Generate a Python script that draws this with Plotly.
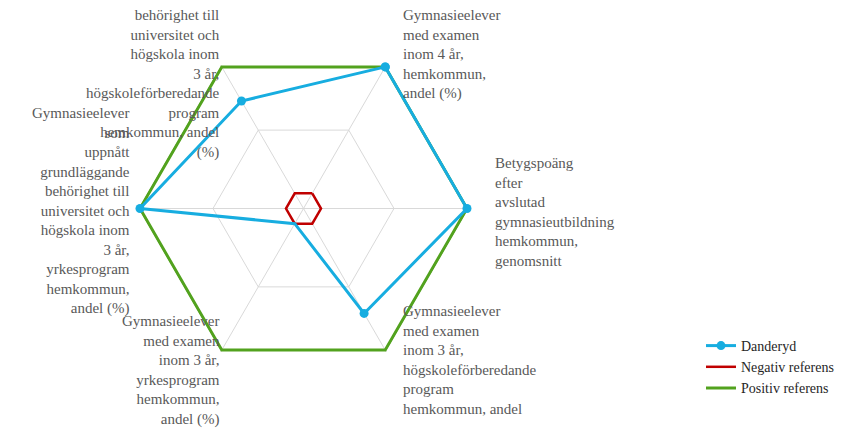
import plotly.graph_objects as go

W, H = 859, 428

categories = [
    "Gymnasieelever med examen inom 4 år, hemkommun, andel (%)",
    "Betygspoäng efter avslutad gymnasieutbildning hemkommun, genomsnitt",
    "Gymnasieelever med examen inom 3 år, högskoleförberedande program hemkommun, andel (%)",
    "Gymnasieelever med examen inom 3 år, yrkesprogram hemkommun, andel (%)",
    "Gymnasieelever som uppnått grundläggande behörighet till universitet och högskola inom 3 år, yrkesprogram hemkommun, andel (%)",
    "Gymnasieelever som uppnått grundläggande behörighet till universitet och högskola inom 3 år, högskoleförberedande program hemkommun, andel (%)",
]
danderyd = [1.0, 1.0, 0.71, 0.0, 1.0, 0.73]
negativ = [0, 0, 0, 0, 0, 0]
positiv = [1, 1, 1, 1, 1, 1]

# Visible (wrapped) label lines as shown in the chart
label_lines = [
    ["Gymnasieelever", "med examen", "inom 4 år,", "hemkommun,", "andel (%)"],
    ["Betygspoäng", "efter", "avslutad", "gymnasieutbildning", "hemkommun,", "genomsnitt"],
    ["Gymnasieelever", "med examen", "inom 3 år,", "högskoleförberedande", "program", "hemkommun, andel"],
    ["Gymnasieelever", "med examen", "inom 3 år,", "yrkesprogram", "hemkommun,", "andel (%)"],
    ["Gymnasieelever", "som", "uppnått", "grundläggande", "behörighet till", "universitet och",
     "högskola inom", "3 år,", "yrkesprogram", "hemkommun,", "andel (%)"],
    ["behörighet till", "universitet och", "högskola inom", "3 år,", "högskoleförberedande",
     "program", "hemkommun, andel", "(%)"],
]

theta = categories + [categories[0]]

def closed(v):
    return list(v) + [v[0]]

SERIF = "Times New Roman, Liberation Serif, DejaVu Serif, serif"
TXT = "#595959"

fig = go.Figure()
fig.add_trace(go.Scatterpolar(
    r=closed(positiv), theta=theta, mode="lines", name="Positiv referens",
    line=dict(color="#52A21E", width=3), cliponaxis=False, legendrank=3,
))
fig.add_trace(go.Scatterpolar(
    r=closed(negativ), theta=theta, mode="lines", name="Negativ referens",
    line=dict(color="#C00000", width=2.5), cliponaxis=False, legendrank=2,
))
fig.add_trace(go.Scatterpolar(
    r=closed(danderyd), theta=theta, mode="lines+markers", name="Danderyd",
    line=dict(color="#17ADE0", width=3), marker=dict(size=9, color="#17ADE0"),
    cliponaxis=False, legendrank=1,
))

rmin, rmax = -0.12, 1.015
cx, cy, R = 295.5, 200.5, 163.5 * (rmax - rmin) / (1 - rmin)
fig.update_layout(
    width=W, height=H,
    margin=dict(l=0, r=0, t=0, b=0),
    paper_bgcolor="white", plot_bgcolor="white",
    font=dict(family=SERIF, size=15, color=TXT),
    polar=dict(
        domain=dict(x=[(cx - R) / W, (cx + R) / W], y=[(H - cy - R) / H, (H - cy + R) / H]),
        gridshape="linear",
        bgcolor="white",
        radialaxis=dict(range=[rmin, rmax], tickvals=[0, 0.5, 1], showticklabels=False,
                        showline=False, gridcolor="#d9d9d9", gridwidth=1, ticks="",
                        layer="below traces"),
        angularaxis=dict(rotation=60, direction="clockwise", showticklabels=False,
                         ticks="", showline=False,
                         gridcolor="#d9d9d9", gridwidth=1, layer="below traces"),
    ),
    legend=dict(x=693 / W, y=1 - 322 / H, xanchor="left", yanchor="top",
                font=dict(family=SERIF, size=14, color="#262626"),
                bgcolor="rgba(0,0,0,0)", tracegroupgap=0, traceorder="normal"),
    showlegend=True,
)

# label anchor positions (pixel): (x, y_center, xanchor)
label_pos = [
    (393, 46.5, "left"),
    (485, 204.0, "left"),
    (393, 352.0, "left"),
    (214, 362.0, "right"),
    (124, 202.5, "right"),
    (214, 76.0, "right"),
]
for lines, (px, py, xa) in zip(label_lines, label_pos):
    fig.add_annotation(
        x=px / W, y=1 - py / H, xref="paper", yref="paper",
        text="<br>".join(lines), showarrow=False,
        xanchor=xa, yanchor="middle", align=xa,
        font=dict(family=SERIF, size=15, color=TXT),
    )

fig.write_html("out.html")
